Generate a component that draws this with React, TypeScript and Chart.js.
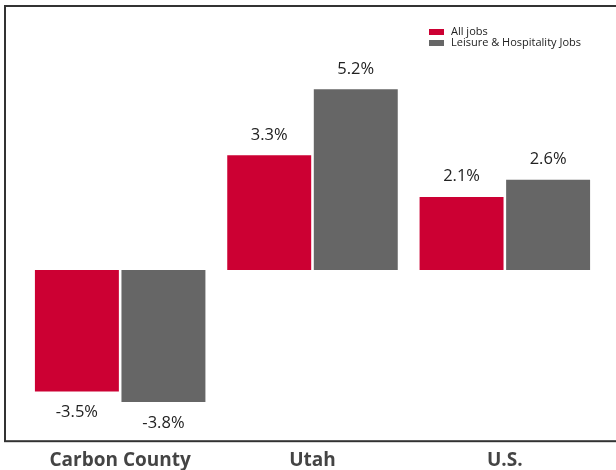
import React, { useEffect, useRef } from "react";
import { Chart, registerables } from "chart.js";

Chart.register(...registerables);

const categories = ["Carbon County", "Utah", "U.S."];
const seriesNames = ["All jobs", "Leisure & Hospitality Jobs"];
const allJobs = [-3.5, 3.3, 2.1];
const leisureJobs = [-3.8, 5.2, 2.6];
const seriesColors = ["#cc0033", "#666666"];

const FONT = "'Open Sans', 'Noto Sans', sans-serif";

const framePlugin = {
  id: "frame",
  beforeDraw(chart: any) {
    const { ctx, chartArea } = chart;
    ctx.save();
    ctx.strokeStyle = "#333333";
    ctx.lineWidth = 2;
    ctx.strokeRect(5, chartArea.top, chart.width + 10, chartArea.bottom - chartArea.top);
    ctx.restore();
  },
};

const valueLabelPlugin = {
  id: "valueLabels",
  afterDatasetsDraw(chart: any) {
    const { ctx } = chart;
    ctx.save();
    ctx.fillStyle = "#222222";
    ctx.font = `16.5px ${FONT}`;
    ctx.textAlign = "center";
    chart.data.datasets.forEach((ds: any, di: number) => {
      const meta = chart.getDatasetMeta(di);
      meta.data.forEach((bar: any, i: number) => {
        const v = ds.data[i];
        const txt = v.toFixed(1) + "%";
        if (v >= 0) {
          ctx.textBaseline = "bottom";
          ctx.fillText(txt, bar.x, bar.y - 12);
        } else {
          ctx.textBaseline = "top";
          ctx.fillText(txt, bar.x, bar.y + 13);
        }
      });
    });
    ctx.restore();
  },
};

const legendPlugin = {
  id: "cornerLegend",
  afterDraw(chart: any) {
    const { ctx } = chart;
    ctx.save();
    ctx.font = `11px ${FONT}`;
    ctx.textBaseline = "middle";
    ctx.textAlign = "left";
    const x0 = 429;
    const y0 = 32;
    chart.data.datasets.forEach((ds: any, i: number) => {
      const y = y0 + i * 11;
      ctx.fillStyle = ds.backgroundColor;
      ctx.fillRect(x0, y - 3, 15, 6);
      ctx.fillStyle = "#222222";
      ctx.fillText(ds.label, x0 + 22, y);
    });
    ctx.restore();
  },
};

export default function App() {
  const ref = useRef<HTMLCanvasElement | null>(null);
  useEffect(() => {
    if (!ref.current) return;
    const chart = new Chart(ref.current, {
      type: "bar",
      data: {
        labels: categories,
        datasets: [
          { label: seriesNames[0], data: allJobs, backgroundColor: seriesColors[0] },
          { label: seriesNames[1], data: leisureJobs, backgroundColor: seriesColors[1] },
        ],
      },
      options: {
        animation: false,
        responsive: true,
        maintainAspectRatio: false,
        layout: { padding: { left: 24, right: 15, top: 6, bottom: 0 } },
        datasets: { bar: { barPercentage: 0.97, categoryPercentage: 0.9 } } as any,
        plugins: {
          legend: { display: false },
          tooltip: { enabled: false },
        },
        scales: {
          x: {
            grid: { display: false, drawTicks: false },
            border: { display: false },
            ticks: {
              font: { family: FONT, size: 19, weight: "bold" },
              color: "#444444",
              padding: 8,
              maxRotation: 0,
            },
          },
          y: {
            display: false,
            min: -4.93,
            max: 7.6,
          },
        },
      },
      plugins: [framePlugin, valueLabelPlugin, legendPlugin],
    });
    return () => chart.destroy();
  }, []);
  return (
    <div style={{ position: "fixed", left: 0, top: 0, width: 616, height: 480, background: "#fff" }}>
      <canvas ref={ref} />
    </div>
  );
}
